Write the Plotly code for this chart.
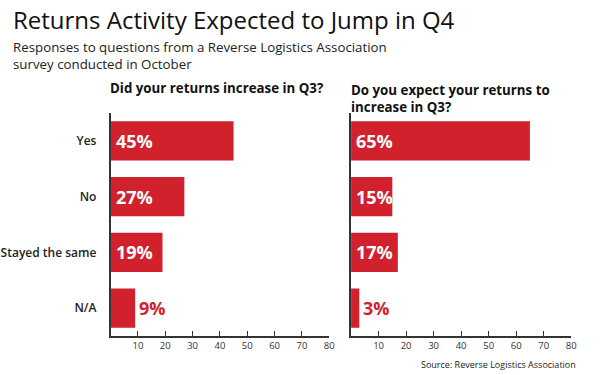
import plotly.graph_objects as go

categories = ["Yes", "No", "Stayed the same", "N/A"]
q3_actual = [45, 27, 19, 9]
q4_expected = [65, 15, 17, 3]
tick_vals = [10, 20, 30, 40, 50, 60, 70, 80]
title = "Returns Activity Expected to Jump in Q4"
subtitle = "Responses to questions from a Reverse Logistics Association<br>survey conducted in October"
left_title = "Did your returns increase in Q3?"
right_title = "Do you expect your returns to<br>increase in Q3?"
source = "Source: Reverse Logistics Association"

RED = "#d0212d"
FONT = "Open Sans"

fig = go.Figure()
fig.add_trace(go.Bar(x=q3_actual, y=categories, orientation="h", marker=dict(color=RED, line_width=0),
                     width=0.7, xaxis="x", yaxis="y", hoverinfo="skip"))
fig.add_trace(go.Bar(x=q4_expected, y=categories, orientation="h", marker=dict(color=RED, line_width=0),
                     width=0.7, xaxis="x2", yaxis="y2", hoverinfo="skip"))

annotations = []
for vals, xr, yr in [(q3_actual, "x", "y"), (q4_expected, "x2", "y2")]:
    for c, v in zip(categories, vals):
        inside = v >= 12
        annotations.append(dict(
            x=0 if inside else v, y=c, xref=xr, yref=yr, text=f"{v}%", showarrow=False,
            xanchor="left", yanchor="middle", xshift=3 if inside else 2,
            font=dict(family=FONT, size=18, weight=700, color="white" if inside else RED)))


def txt(x, y, text, size, weight=400, anchor="left", yanchor="middle", color="#111"):
    return dict(x=x / 600, y=1 - y / 375, xref="paper", yref="paper", text=text, showarrow=False,
                xanchor=anchor, yanchor=yanchor, align=anchor,
                font=dict(family=FONT, size=size, weight=weight, color=color))


annotations.append(txt(11, 19.5, title, 24))
annotations.append(txt(11, 36.5, subtitle, 13.3, yanchor="top", color="#222"))
annotations.append(txt(109, 88, left_title, 13.3, weight=700))
annotations.append(txt(352, 79, right_title, 13.3, weight=700, yanchor="top"))
annotations.append(txt(583, 364, source, 9, anchor="right", color="#222"))

xaxis_common = dict(range=[0, 80], tickvals=tick_vals, ticks="inside", ticklen=5, tickcolor="#333",
                    showline=True, linecolor="#333", linewidth=1.5, showgrid=False, zeroline=False,
                    tickfont=dict(family=FONT, size=9.5, color="#333"), fixedrange=True)
yaxis_common = dict(categoryorder="array", categoryarray=categories, autorange="reversed",
                    showline=True, linecolor="#333", linewidth=1.5, showgrid=False, ticks="",
                    domain=[1 - 336 / 375, 1 - 113 / 375], fixedrange=True)

fig.update_layout(
    width=600, height=375, margin=dict(l=0, r=0, t=0, b=0),
    paper_bgcolor="white", plot_bgcolor="white", showlegend=False, bargap=0.3,
    xaxis=dict(domain=[111.5 / 600, 332 / 600], anchor="y", **xaxis_common),
    xaxis2=dict(domain=[354 / 600, 576 / 600], anchor="y2", **xaxis_common),
    yaxis=dict(anchor="x", ticklabelstandoff=10,
               tickfont=dict(family=FONT, size=12, weight=600, color="#222"), **yaxis_common),
    yaxis2=dict(anchor="x2", showticklabels=False, **yaxis_common),
    annotations=annotations,
)

fig.write_html("out.html", config={"displayModeBar": False},
               post_script="document.body.style.margin='0';")
